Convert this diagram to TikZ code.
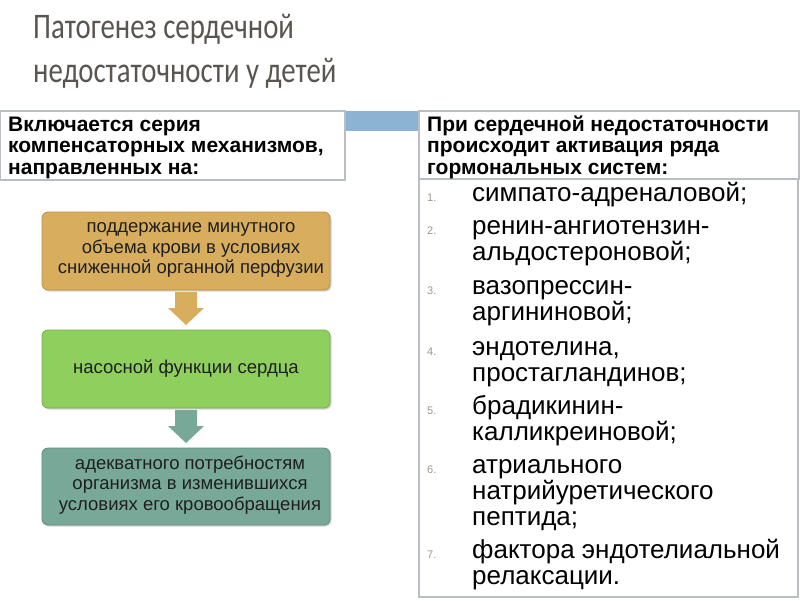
\documentclass[tikz,border=0pt]{standalone}
\usepackage{fontspec}
\setmainfont{Liberation Sans}
\newfontfamily\titlefont{Carlito}
\usetikzlibrary{calc,shadows}
\definecolor{titlegray}{HTML}{5A5550}
\definecolor{barblue}{HTML}{8DB3D4}
\definecolor{boxgold}{HTML}{D8AE5E}
\definecolor{boxgoldb}{HTML}{B8914A}
\definecolor{boxgreen}{HTML}{8FCF5E}
\definecolor{boxgreenb}{HTML}{76AE4C}
\definecolor{boxteal}{HTML}{78A898}
\definecolor{boxtealb}{HTML}{5F8A7C}
\definecolor{numgray}{HTML}{A09888}
\definecolor{framegray}{HTML}{B8BEC4}
\newcommand{\narrowtxt}[1]{\scalebox{0.80}[1]{#1}}
\tikzset{
  hdrbox/.style={draw=framegray, line width=1.2pt, fill=white},
  flowbox/.style={rounded corners=6pt, line width=0.8pt, drop shadow={shadow xshift=1.5pt, shadow yshift=-1.5pt, opacity=0.35}},
  flowtext/.style={align=center, font=\fontsize{18.5}{20.5}\selectfont, text=black!88, inner sep=0pt},
  hdrtext/.style={anchor=base west, align=left, font=\bfseries\fontsize{21}{22}\selectfont, inner sep=0pt},
  titletext/.style={anchor=base west, inner sep=0pt, font=\titlefont\fontsize{36}{44}\selectfont, text=titlegray},
  itemtext/.style={anchor=base west, inner sep=0pt, font=\fontsize{26}{27}\selectfont},
  itemnum/.style={anchor=base west, inner sep=0pt, font=\fontsize{11}{12}\selectfont, text=numgray},
}
\begin{document}
\begin{tikzpicture}[x=1pt,y=-1pt]
\useasboundingbox (0,0) rectangle (800,600);
\fill[white] (0,0) rectangle (800,600);
% title
\node[titletext] (t1) at (33,38) {\narrowtxt{Патогенез сердечной}};
\node[titletext] (t2) at (33,82) {\narrowtxt{недостаточности у детей}};
% blue bar
\fill[barblue] (0,111) rectangle (800,131);
% left header
\path[hdrbox] (0,111) rectangle (345,180);
\node[hdrtext] (lh1) at (8,131) {Включается серия};
\node[hdrtext] (lh2) at (8,152.5) {компенсаторных механизмов,};
\node[hdrtext] (lh3) at (8,174) {направленных на:};
% right header
\path[hdrbox] (419,111) rectangle (799,179);
\path[hdrbox] (419,179) rectangle (798,597);
\node[hdrtext] (rh1) at (427,131) {При сердечной недостаточности};
\node[hdrtext] (rh2) at (427,152.5) {происходит активация ряда};
\node[hdrtext] (rh3) at (427,174) {гормональных систем:};
% flow boxes
\path[flowbox, fill=boxgold, draw=boxgoldb] (42,212) rectangle (330,290);
\node[flowtext] (b1) at (191,250) {поддержание минутного\\объема крови в условиях\\сниженной органной перфузии};
\path[flowbox, fill=boxgreen, draw=boxgreenb] (42,330) rectangle (330,408);
\node[flowtext] (b2) at (186,369) {насосной функции сердца};
\path[flowbox, fill=boxteal, draw=boxtealb] (42,448) rectangle (330,525);
\node[flowtext] (b3) at (190,485) {адекватного потребностям\\организма в изменившихся\\условиях его кровообращения};
% arrows
\coordinate (a1) at (186,292);
\coordinate (a2) at (186,410);
\fill[boxgold] ($(a1)+(-11,0)$) -- ($(a1)+(11,0)$) -- ($(a1)+(11,16)$) -- ($(a1)+(18,16)$) -- ($(a1)+(0,33)$) -- ($(a1)+(-18,16)$) -- ($(a1)+(-11,16)$) -- cycle;
\fill[boxteal] ($(a2)+(-11,0)$) -- ($(a2)+(11,0)$) -- ($(a2)+(11,16)$) -- ($(a2)+(18,16)$) -- ($(a2)+(0,33)$) -- ($(a2)+(-18,16)$) -- ($(a2)+(-11,16)$) -- cycle;
% list
\node[itemnum] (n1) at (427,201) {1.};
\node[itemtext] (i1) at (472,201) {симпато-адреналовой;};
\node[itemnum] (n2) at (427,234) {2.};
\node[itemtext] (i2a) at (472,234) {ренин-ангиотензин-};
\node[itemtext] (i2b) at (472,260.5) {альдостероновой;};
\node[itemnum] (n3) at (427,294) {3.};
\node[itemtext] (i3a) at (472,294) {вазопрессин-};
\node[itemtext] (i3b) at (472,320.5) {аргининовой;};
\node[itemnum] (n4) at (427,355) {4.};
\node[itemtext] (i4a) at (472,355) {эндотелина,};
\node[itemtext] (i4b) at (472,381) {простагландинов;};
\node[itemnum] (n5) at (427,414) {5.};
\node[itemtext] (i5a) at (472,414) {брадикинин-};
\node[itemtext] (i5b) at (472,440) {калликреиновой;};
\node[itemnum] (n6) at (427,473.5) {6.};
\node[itemtext] (i6a) at (472,473.5) {атриального};
\node[itemtext] (i6b) at (472,499.5) {натрийуретического};
\node[itemtext] (i6c) at (472,525) {пептида;};
\node[itemnum] (n7) at (427,558.5) {7.};
\node[itemtext] (i7a) at (472,558.5) {фактора эндотелиальной};
\node[itemtext] (i7b) at (472,584) {релаксации.};
\end{tikzpicture}
\end{document}
